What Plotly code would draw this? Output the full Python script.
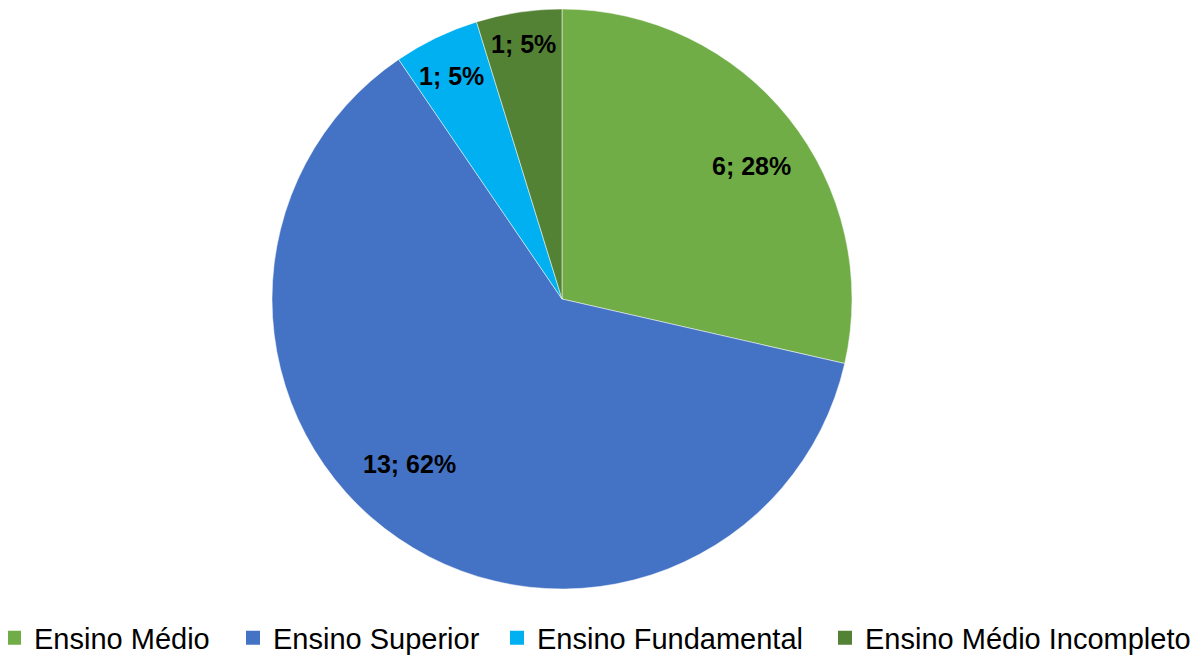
import math
import plotly.graph_objects as go

categories = ["Ensino Médio", "Ensino Superior", "Ensino Fundamental", "Ensino Médio Incompleto"]
values = [6, 13, 1, 1]
label_text = ["6; 28%", "13; 62%", "1; 5%", "1; 5%"]
colors = ["#70AD47", "#4472C4", "#00B0F0", "#548235"]

# label placement (style): radius fraction and angle offset from slice bisector (deg)
label_radius = [0.797, 0.774, 0.857, 0.89]
label_angle_offset = [3.45, 8.36, -0.6, -0.1]
# legend entry positions (left edge, px)
legend_px = [14, 253, 517, 845]

W, H = 1201, 657
OFF_X, OFF_Y = 8, 7  # page body margin offset
cx, cy, r = 562 - OFF_X, 298 - OFF_Y, 290

dom_x = [(cx - r) / W, (cx + r) / W]
dom_y = [(H - (cy + r)) / H, (H - (cy - r)) / H]

fig = go.Figure(go.Pie(
    labels=categories,
    values=values,
    textinfo="none",
    marker=dict(colors=colors, line=dict(color="white", width=0.5)),
    sort=False,
    direction="clockwise",
    rotation=0,
    domain=dict(x=dom_x, y=dom_y),
    hoverinfo="label+value+percent",
    showlegend=False,
))

# data labels
total = sum(values)
cum = 0
for v, t, f, da in zip(values, label_text, label_radius, label_angle_offset):
    mid = (cum + v / 2) / total * 2 * math.pi + math.radians(da)
    cum += v
    px = cx + f * r * math.sin(mid)
    py = cy - f * r * math.cos(mid)
    fig.add_annotation(
        x=px / W, y=1 - py / H,
        xref="paper", yref="paper",
        text=t, showarrow=False,
        xanchor="center", yanchor="middle",
        font=dict(family="Liberation Sans", size=25, color="black", weight="bold"),
    )

# legend entries, one legend per category for Excel-like spacing
legend_layout = {}
for i, (cat, col, lx) in enumerate(zip(categories, colors, legend_px)):
    key = "legend" if i == 0 else f"legend{i + 1}"
    fig.add_trace(go.Scatter(
        x=[None], y=[None], mode="markers", name=cat,
        marker=dict(symbol="square", size=14, color=col),
        legend=key, showlegend=True, hoverinfo="skip",
    ))
    legend_layout[key] = dict(
        x=(lx - OFF_X - 20) / W, xanchor="left",
        y=(H - (637 - OFF_Y)) / H, yanchor="middle",
        orientation="h",
        font=dict(size=29, family="Liberation Sans", color="black"),
        bgcolor="rgba(0,0,0,0)",
        itemwidth=30,
    )

fig.update_layout(
    width=W, height=H,
    margin=dict(l=0, r=0, t=0, b=0, autoexpand=False),
    paper_bgcolor="white",
    plot_bgcolor="white",
    font=dict(family="Liberation Sans", color="black"),
    xaxis=dict(visible=False),
    yaxis=dict(visible=False),
    **legend_layout,
)

fig.write_html("out.html")
